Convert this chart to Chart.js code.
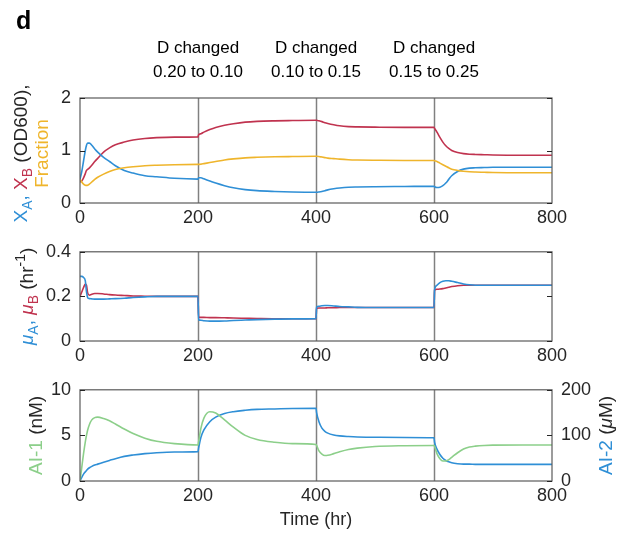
<!DOCTYPE html>
<html lang="en">
<head>
    <meta charset="UTF-8">
    <title>Chemostat dilution steps</title>
    <script src="https://cdn.jsdelivr.net/npm/chart.js"></script>
    <style>
        body { margin: 0; background: #fff; }
        #wrap { position: relative; width: 625px; height: 538px; }
        canvas { position: absolute; left: 0; }
    </style>
</head>
<body>
<div id="wrap">
    <canvas id="c1" width="625" height="232" style="top:0"></canvas>
    <canvas id="c2" width="625" height="138" style="top:232px"></canvas>
    <canvas id="c3" width="625" height="168" style="top:370px"></canvas>
</div>
<script>
// time points (hr) shared by all series
const time = [0, 3, 6, 9, 11, 13, 16, 20, 25, 30, 40, 50, 60, 75, 90, 110, 130, 160, 200,
    201, 205, 210, 220, 230, 245, 260, 280, 300, 330, 360, 400,
    401, 405, 410, 415, 420, 430, 440, 455, 470, 500, 550, 600,
    601, 605, 610, 615, 620, 625, 630, 640, 650, 660, 670, 685, 700, 750, 800];

// panel 1: X_A, X_B (OD600) and fraction
const xA = [0.45, 0.6, 0.8, 1.0, 1.1, 1.14, 1.14, 1.1, 1.03, 0.97, 0.87, 0.79, 0.71, 0.62, 0.57, 0.52, 0.5, 0.47, 0.455,
    0.48, 0.48, 0.46, 0.42, 0.38, 0.33, 0.29, 0.255, 0.235, 0.22, 0.21, 0.205,
    0.205, 0.21, 0.22, 0.235, 0.25, 0.27, 0.285, 0.3, 0.305, 0.31, 0.315, 0.32,
    0.31, 0.295, 0.3, 0.33, 0.38, 0.45, 0.52, 0.6, 0.645, 0.665, 0.67, 0.675, 0.68, 0.68, 0.68];
const xB = [0.4, 0.42, 0.48, 0.56, 0.62, 0.64, 0.67, 0.72, 0.79, 0.85, 0.97, 1.05, 1.11, 1.16, 1.2, 1.23, 1.245, 1.255, 1.26,
    1.3, 1.32, 1.35, 1.4, 1.44, 1.48, 1.51, 1.54, 1.555, 1.565, 1.57, 1.575,
    1.575, 1.565, 1.55, 1.53, 1.515, 1.49, 1.47, 1.455, 1.45, 1.445, 1.44, 1.44,
    1.42, 1.35, 1.25, 1.16, 1.09, 1.04, 1.0, 0.96, 0.94, 0.93, 0.925, 0.92, 0.915, 0.91, 0.91];
const fraction = [0.45, 0.4, 0.36, 0.34, 0.335, 0.34, 0.36, 0.4, 0.45, 0.49, 0.55, 0.6, 0.64, 0.67, 0.69, 0.71, 0.72, 0.73, 0.735,
    0.735, 0.74, 0.75, 0.77, 0.79, 0.82, 0.84, 0.86, 0.87, 0.88, 0.885, 0.89,
    0.89, 0.885, 0.875, 0.865, 0.855, 0.845, 0.835, 0.825, 0.82, 0.815, 0.81, 0.81,
    0.805, 0.79, 0.76, 0.73, 0.7, 0.67, 0.645, 0.62, 0.605, 0.595, 0.59, 0.585, 0.58, 0.575, 0.575];

// panel 2: growth rates (hr^-1)
const muA = [0.29, 0.29, 0.285, 0.27, 0.22, 0.195, 0.19, 0.189, 0.188, 0.188, 0.188, 0.189, 0.19, 0.192, 0.195, 0.198, 0.2, 0.2, 0.2,
    0.095, 0.093, 0.091, 0.089, 0.089, 0.09, 0.092, 0.094, 0.096, 0.098, 0.099, 0.1,
    0.152, 0.156, 0.158, 0.159, 0.159, 0.157, 0.155, 0.153, 0.151, 0.15, 0.15, 0.15,
    0.23, 0.25, 0.262, 0.268, 0.27, 0.27, 0.268, 0.262, 0.256, 0.252, 0.25, 0.25, 0.25, 0.25, 0.25];
const muB = [0.2, 0.22, 0.24, 0.255, 0.25, 0.215, 0.205, 0.21, 0.213, 0.213, 0.211, 0.208, 0.206, 0.204, 0.202, 0.201, 0.2, 0.2, 0.2,
    0.106, 0.106, 0.106, 0.105, 0.105, 0.104, 0.103, 0.102, 0.101, 0.1, 0.1, 0.1,
    0.147, 0.148, 0.148, 0.148, 0.149, 0.149, 0.15, 0.15, 0.15, 0.15, 0.15, 0.15,
    0.228, 0.232, 0.233, 0.235, 0.238, 0.241, 0.244, 0.248, 0.25, 0.25, 0.25, 0.25, 0.25, 0.25, 0.25];

// panel 3: AI-1 (nM, left) and AI-2 (uM, right)
const ai1 = [0, 1.5, 3.0, 4.3, 5.0, 5.6, 6.2, 6.7, 6.95, 7.0, 6.85, 6.6, 6.25, 5.7, 5.2, 4.7, 4.35, 4.1, 3.95,
    4.3, 5.8, 6.9, 7.6, 7.45, 6.7, 5.9, 5.0, 4.55, 4.25, 4.1, 4.0,
    3.9, 3.3, 2.95, 2.8, 2.82, 3.0, 3.2, 3.45, 3.6, 3.78, 3.87, 3.9,
    3.8, 3.0, 2.45, 2.2, 2.2, 2.35, 2.6, 3.1, 3.5, 3.72, 3.82, 3.9, 3.93, 3.95, 3.95];
const ai2 = [0, 8, 15, 20, 23, 26, 29, 32, 35, 37, 41, 45, 49, 54, 57, 60, 62, 63.5, 64.5,
    72, 96, 112, 130, 140, 148, 152, 155, 157, 158, 159, 159.5,
    150, 130, 116, 109, 105, 101, 99, 97.5, 96.5, 96, 95.5, 95,
    85, 70, 58, 50, 45, 42, 40, 38, 37, 37, 36.5, 36.5, 36.5, 36.5, 36.5];

// axes and annotations
const xTicks = [0, 200, 400, 600, 800];
const yTicks1 = [0, 1, 2];
const yTicks2 = [0, 0.2, 0.4];
const yTicks3 = [0, 5, 10];
const yTicks3R = [0, 100, 200];
const changeTimes = [200, 400, 600];
const changeLabels = ['0.20 to 0.10', '0.10 to 0.15', '0.15 to 0.25'];

const BLUE = '#2f8fd6';
const RED = '#c0334f';
const ORANGE = '#efb52c';
const GREEN = '#8ccf8a';
const INK = '#262626';
const FONT = '"Liberation Sans", Arial, sans-serif';

Chart.defaults.font.family = FONT;
Chart.defaults.font.size = 18;
Chart.defaults.color = INK;

function pts(ys) {
    return ys.map((y, i) => ({ x: time[i], y: y }));
}

function line(ys, color, axis) {
    return {
        data: pts(ys),
        borderColor: color,
        borderWidth: 1.6,
        pointRadius: 0,
        cubicInterpolationMode: 'monotone',
        yAxisID: axis || 'y'
    };
}

function setTicks(arr) {
    return function (scale) { scale.ticks = arr.map(v => ({ value: v })); };
}

function xScale(h, withTitle) {
    return {
        type: 'linear', min: 0, max: 800,
        afterBuildTicks: setTicks(xTicks),
        grid: { display: false, drawTicks: false },
        border: { display: false },
        ticks: { padding: 4, maxRotation: 0 },
        title: withTitle ? { display: true, text: 'Time (hr)', padding: { top: 0, bottom: 7 }, font: { size: 18 } } : { display: false },
        afterFit: s => { s.height = h; }
    };
}

function yScale(min, max, arr, pos, w) {
    return {
        type: 'linear', min: min, max: max, position: pos,
        afterBuildTicks: setTicks(arr),
        grid: { display: false, drawTicks: false },
        border: { display: false },
        ticks: { padding: 9 },
        afterFit: s => { s.width = w; }
    };
}

// box, inward ticks and the step lines
const frame = {
    id: 'frame',
    beforeDatasetsDraw(chart) {
        const { ctx, chartArea: a, scales } = chart;
        ctx.save();
        ctx.strokeStyle = '#808080';
        ctx.lineWidth = 1.5;
        changeTimes.forEach(t => {
            const x = Math.round(scales.x.getPixelForValue(t)) + 0.5;
            ctx.beginPath();
            ctx.moveTo(x, a.top);
            ctx.lineTo(x, a.bottom);
            ctx.stroke();
        });
        ctx.restore();
    },
    afterDraw(chart) {
        const { ctx, chartArea: a, scales } = chart;
        ctx.save();
        ctx.strokeStyle = '#5a5a5a';
        ctx.lineWidth = 1.2;
        ctx.strokeRect(a.left, a.top, a.right - a.left, a.bottom - a.top);
        ctx.strokeStyle = INK;
        ctx.lineWidth = 1;
        scales.y.ticks.forEach(t => {
            const y = Math.round(scales.y.getPixelForValue(t.value)) + 0.5;
            ctx.beginPath();
            ctx.moveTo(a.left, y); ctx.lineTo(a.left + 5, y);
            ctx.moveTo(a.right, y); ctx.lineTo(a.right - 5, y);
            ctx.stroke();
        });
        ctx.restore();
    }
};

// rotated label made of coloured pieces, with sub/superscripts
function richLabel(ctx, segs, cx, cy, size) {
    ctx.save();
    const fontOf = s => (s.italic ? 'italic ' : '') + Math.round(s.sub || s.sup ? size * 0.72 : size) + 'px ' + FONT;
    let w = 0;
    segs.forEach(s => { ctx.font = fontOf(s); w += ctx.measureText(s.t).width; });
    ctx.translate(cx, cy);
    ctx.rotate(-Math.PI / 2);
    ctx.textBaseline = 'middle';
    ctx.textAlign = 'left';
    let x = -w / 2;
    segs.forEach(s => {
        ctx.font = fontOf(s);
        ctx.fillStyle = s.c;
        const dy = s.sub ? size * 0.32 : (s.sup ? -size * 0.38 : 0);
        ctx.fillText(s.t, x, dy);
        x += ctx.measureText(s.t).width;
    });
    ctx.restore();
}

function labelPlugin(draw) {
    return { id: 'labels', afterDraw(chart) { draw(chart.ctx, chart.chartArea, chart.scales); } };
}

const baseOpts = (pad, scales) => ({
    responsive: false,
    devicePixelRatio: 1,
    animation: false,
    layout: { padding: pad },
    plugins: { legend: { display: false }, tooltip: { enabled: false } },
    scales: scales
});

// panel 1
new Chart(document.getElementById('c1'), {
    type: 'line',
    data: { datasets: [line(fraction, ORANGE), line(xA, BLUE), line(xB, RED)] },
    options: baseOpts({ top: 98, right: 73, left: 0, bottom: 0 }, {
        x: xScale(29, false),
        y: yScale(0, 2, yTicks1, 'left', 80)
    }),
    plugins: [frame, labelPlugin((ctx, a, s) => {
        const cy = (a.top + a.bottom) / 2 + 3;
        richLabel(ctx, [
            { t: 'X', c: BLUE }, { t: 'A', c: BLUE, sub: true }, { t: ', ', c: BLUE },
            { t: 'X', c: RED }, { t: 'B', c: RED, sub: true }, { t: ' (OD600),', c: INK }
        ], 22, cy, 19);
        richLabel(ctx, [{ t: 'Fraction', c: ORANGE }], 43, cy, 19);
        ctx.save();
        ctx.fillStyle = '#000';
        ctx.font = 'bold 25px ' + FONT;
        ctx.textBaseline = 'alphabetic';
        ctx.fillText('d', 16, 29);
        ctx.font = '17px ' + FONT;
        ctx.textAlign = 'center';
        ctx.textBaseline = 'middle';
        changeTimes.forEach((t, i) => {
            const x = s.x.getPixelForValue(t);
            ctx.fillText('D changed', x, 48);
            ctx.fillText(changeLabels[i], x, 72);
        });
        ctx.restore();
    })]
});

// panel 2
new Chart(document.getElementById('c2'), {
    type: 'line',
    data: { datasets: [line(muA, BLUE), line(muB, RED)] },
    options: baseOpts({ top: 3, right: 73, left: 0, bottom: 0 }, {
        x: xScale(29, false),
        y: yScale(0, 0.4, yTicks2, 'left', 80)
    }),
    plugins: [frame, labelPlugin((ctx, a) => {
        richLabel(ctx, [
            { t: 'μ', c: BLUE, italic: true }, { t: 'A', c: BLUE, sub: true }, { t: ', ', c: BLUE },
            { t: 'μ', c: RED, italic: true }, { t: 'B', c: RED, sub: true }, { t: ' (hr', c: INK },
            { t: '-1', c: INK, sup: true }, { t: ')', c: INK }
        ], 28, (a.top + a.bottom) / 2, 19);
    })]
});

// panel 3
new Chart(document.getElementById('c3'), {
    type: 'line',
    data: { datasets: [line(ai1, GREEN, 'y'), line(ai2, BLUE, 'y2')] },
    options: baseOpts({ top: 6, right: 0, left: 0, bottom: 0 }, {
        x: xScale(57, true),
        y: yScale(0, 10, yTicks3, 'left', 80),
        y2: yScale(0, 200, yTicks3R, 'right', 73)
    }),
    plugins: [frame, labelPlugin((ctx, a) => {
        const cy = (a.top + a.bottom) / 2;
        richLabel(ctx, [{ t: 'AI-1', c: GREEN }, { t: ' (nM)', c: INK }], 37, cy, 19);
        richLabel(ctx, [{ t: 'AI-2', c: BLUE }, { t: ' (', c: INK }, { t: 'μ', c: INK, italic: true }, { t: 'M)', c: INK }], 607, cy, 19);
    })]
});
</script>
</body>
</html>
